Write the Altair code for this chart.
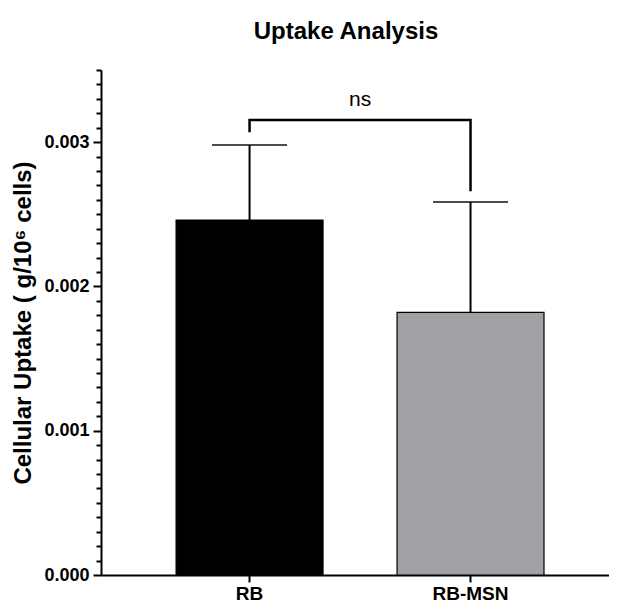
import altair as alt
import pandas as pd

groups = ["RB", "RB-MSN"]
means = [0.00246, 0.00182]
uppers = [0.00298, 0.002585]
colors = ["#000000", "#a1a0a5"]

bracket_x = ["RB", "RB", "RB-MSN", "RB-MSN"]
bracket_y = [0.003077, 0.003153, 0.003153, 0.002668]
bracket_order = [0, 1, 2, 3]

sig_label = "ns"
sig_y = 0.00329

y_ticks = [i / 10000 for i in range(0, 36)]

bars_df = pd.DataFrame({"group": groups, "mean": means, "upper": uppers})
bracket_df = pd.DataFrame({"group": bracket_x, "y": bracket_y, "o": bracket_order})
sig_df = pd.DataFrame({"group": ["RB"], "y": [sig_y], "t": [sig_label]})

FONT = "Liberation Sans"

x_enc = alt.X(
    "group:N",
    sort=groups,
    scale=alt.Scale(paddingInner=0.335, paddingOuter=0.317, align=0.536),
    axis=alt.Axis(
        title=None,
        labelAngle=0,
        labelFont=FONT,
        labelFontSize=19,
        labelFontWeight="bold",
        labelColor="black",
        labelPadding=2,
        tickSize=7,
        tickWidth=2,
        tickColor="black",
        domainWidth=2,
        domainColor="black",
    ),
)

y_scale = alt.Scale(domain=[0, 0.0035], nice=False)
y_axis = alt.Axis(
    title="Cellular Uptake ( g/10\u2076 cells)",
    titleFont=FONT,
    titleFontSize=24,
    titleFontWeight="bold",
    titleColor="black",
    titlePadding=8,
    values=y_ticks,
    tickCount=40,
    labelOverlap=False,
    labelExpr="round(datum.value*10000) % 10 == 0 ? format(datum.value, '.3f') : ''",
    labelFont=FONT,
    labelFontSize=18,
    labelFontWeight="bold",
    labelColor="black",
    labelPadding=4,
    tickSize={"condition": {"test": "round(datum.value*10000) % 10 == 0", "value": 8}, "value": 5},
    tickWidth=2,
    tickColor="black",
    domainWidth=2,
    domainColor="black",
    grid=False,
)

bars = alt.Chart(bars_df).mark_bar(stroke="black", strokeWidth=1.2).encode(
    x=x_enc,
    y=alt.Y("mean:Q", scale=y_scale, axis=y_axis),
    color=alt.Color("group:N", scale=alt.Scale(domain=groups, range=colors), legend=None),
)

err = alt.Chart(bars_df).mark_rule(color="black", strokeWidth=2).encode(
    x=alt.X("group:N", sort=groups),
    y="mean:Q",
    y2="upper:Q",
)

caps = alt.Chart(bars_df).mark_tick(color="black", thickness=2, size=75).encode(
    x=alt.X("group:N", sort=groups),
    y="upper:Q",
)

bracket = alt.Chart(bracket_df).mark_line(color="black", strokeWidth=2.5, strokeCap="square").encode(
    x=alt.X("group:N", sort=groups),
    y="y:Q",
    order="o:Q",
)

sig = alt.Chart(sig_df).mark_text(
    font=FONT, fontSize=21, color="black", baseline="middle", align="center", dx=110.5
).encode(
    x=alt.X("group:N", sort=groups),
    y="y:Q",
    text="t:N",
)

chart = (
    alt.layer(bars, err, caps, bracket, sig)
    .properties(
        width=508,
        height=505,
        title=alt.TitleParams(
            "Uptake Analysis",
            font=FONT,
            fontSize=24,
            fontWeight="bold",
            color="black",
            anchor="middle",
            offset=17,
            dx=-9,
        ),
        autosize=alt.AutoSizeParams(type="none"),
        padding={"left": 93, "top": 62, "right": 0, "bottom": 32},
    )
    .configure_view(stroke=None)
)

chart.save("out.html", embed_options={"renderer": "svg", "actions": False})
